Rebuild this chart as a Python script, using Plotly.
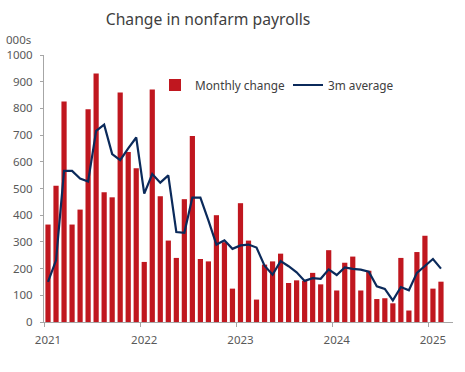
import plotly.graph_objects as go

years = ["2021", "2022", "2023", "2024", "2025"]
months = [f"{y}-{m:02d}" for y in range(2021, 2026) for m in range(1, 13)][:50]

monthly_change = [
    365, 510, 826, 365, 421, 797, 931, 486, 467, 860, 637, 576,
    225, 871, 471, 305, 240, 460, 697, 236, 227, 400, 299, 125,
    445, 305, 84, 215, 227, 256, 146, 156, 154, 184, 141, 269,
    118, 222, 245, 118, 192, 86, 89, 70, 240, 43, 262, 323,
    125, 151,
]
avg_3m = [
    150, 231, 566, 566, 537, 526, 716, 739, 629, 606, 650, 691,
    481, 554, 522, 549, 337, 334, 466, 466, 381, 290, 306, 274,
    287, 290, 279, 211, 177, 228, 209, 186, 154, 164, 162, 197,
    176, 204, 199, 196, 188, 134, 124, 81, 131, 119, 184, 211,
    236, 200,
]

idx = list(range(len(months)))
FONT = "Noto Sans"
GREY = "#595959"
W, H = 465, 372
L, R, T, B = 44, 12, 55, 50
PW, PH = W - L - R, H - T - B

fig = go.Figure()
fig.add_trace(go.Bar(x=idx, y=monthly_change, name="Monthly change",
                     marker=dict(color="#C0171F", line=dict(width=0)),
                     customdata=months, legend="legend"))
fig.add_trace(go.Scatter(x=idx, y=avg_3m, name="3m average", mode="lines",
                         line=dict(color="#0B2A5B", width=2.2), legend="legend2"))

leg_common = dict(orientation="h", yanchor="middle", xanchor="left",
                  bgcolor="rgba(0,0,0,0)", font=dict(family=FONT, size=11.8, color="#404040"),
                  itemwidth=30)

fig.update_layout(
    template="none",
    width=W, height=H,
    margin=dict(l=L, r=R, t=T, b=B),
    paper_bgcolor="white", plot_bgcolor="white",
    bargap=0.35,
    font=dict(family=FONT, size=11.5, color=GREY),
    title=dict(text="Change in nonfarm payrolls", x=208 / W, xanchor="center",
               y=1 - 19.5 / H, yanchor="middle",
               font=dict(family=FONT, size=15.7, color="#404040")),
    legend=dict(x=(155 - L) / PW, y=1 - (85 - T) / PH, **leg_common),
    legend2=dict(x=(288 - L) / PW, y=1 - (85 - T) / PH, **leg_common),
    showlegend=True,
)
fig.update_xaxes(
    range=[-0.5, 50.5],
    tickmode="array",
    tickvals=[-0.5 + 12 * i for i in range(len(years))],
    ticktext=years,
    ticks="outside", ticklen=4, tickcolor="#A6A6A6",
    ticklabelshift=4, ticklabelstandoff=3,
    showline=True, linecolor="#A6A6A6", linewidth=1,
    showgrid=False, zeroline=False, automargin=False,
    tickfont=dict(size=11.5, color=GREY),
)
fig.update_yaxes(
    range=[0, 1000], dtick=100,
    ticks="outside", ticklen=3, tickcolor="#A6A6A6",
    ticklabelstandoff=5,
    showline=True, linecolor="#A6A6A6", linewidth=1,
    showgrid=False, zeroline=False, automargin=False,
    tickfont=dict(size=11.5, color=GREY),
)
fig.add_annotation(text="000s", xref="paper", yref="paper", x=-40 / PW, y=1 + 16 / PH,
                   xanchor="left", yanchor="middle", showarrow=False,
                   font=dict(size=11.5, color=GREY))

fig.write_html("out.html", config={"displayModeBar": False},
               post_script="document.body.style.margin='0';")
